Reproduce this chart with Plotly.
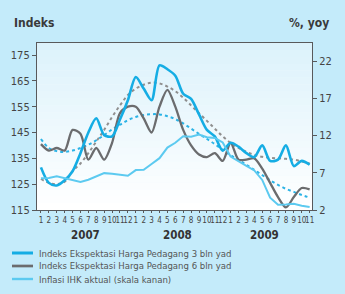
import plotly.graph_objects as go

months = [str(m) for m in range(1, 13)] * 2 + [str(m) for m in range(1, 12)]
years = ["2007", "2008", "2009"]
year_centers = [5.6, 17.3, 28.3]

ekspektasi_3bln = [131.5, 125.5, 124.5, 126.5, 130, 137, 145, 150.5, 144, 143.5,
                   150, 157.5, 166.5, 162, 157.5, 171, 169.5, 167, 160, 158,
                   152, 146, 143.5, 138, 141, 139.5, 137, 135.5, 140, 134,
                   134.5, 140, 132, 134, 132.5]
ekspektasi_6bln = [140.5, 138, 139, 138, 146, 144.5, 134.5, 139, 134.5, 141,
                   152.5, 155, 155, 150.5, 145, 155, 161.5, 155, 146, 140,
                   136.5, 135.5, 137, 134, 141, 134.5, 134.5, 135, 131, 125.5,
                   120, 116, 120, 123.5, 123]
inflasi_ihk = [6.26, 6.30, 6.52, 6.29, 6.01, 5.77, 6.06, 6.51, 6.95, 6.88,
               6.71, 6.59, 7.36, 7.40, 8.17, 8.96, 10.38, 11.03, 11.90, 11.85,
               12.14, 11.77, 11.68, 11.06, 9.17, 8.60, 7.92, 7.31, 6.04, 3.65,
               2.71, 2.75, 2.83, 2.57, 2.41]
tren_3bln = [127, 125.5, 125, 126, 130, 133, 137, 141.5, 146, 151,
             155.5, 159.5, 162, 163.5, 164.3, 164, 162.8, 161, 158.5, 155.5,
             152.5, 149.5, 146.5, 143.5, 141, 139, 137.5, 136.3, 135.6, 135.2,
             135, 134.8, 134.5, 133.8, 133]
tren_6bln = [142.5, 139, 137.8, 137.5, 138, 139, 140.3, 142, 144, 146.2,
             148, 149.8, 151, 151.8, 152.1, 152, 151.3, 150.2, 148.5, 146.5,
             144.5, 142.5, 140.5, 138.3, 136.2, 134.4, 132.5, 130.5, 128.5, 126.5,
             124.7, 123.2, 122, 120.8, 119.8]

legend_names = ["Indeks Ekspektasi Harga Pedagang 3 bln yad",
                "Indeks Ekspektasi Harga Pedagang 6 bln yad",
                "Inflasi IHK aktual (skala kanan)"]
legend_colors = ["#15ade4", "#6b6c6e", "#5ccaf0"]
legend_widths = [2.6, 2.3, 2]

x = list(range(len(months)))
FONT = "Liberation Sans Narrow, DejaVu Sans Condensed, Roboto, sans-serif"

fig = go.Figure()
fig.add_trace(go.Scatter(x=x, y=tren_3bln, mode="lines", showlegend=False,
                         line=dict(color="#8f8f8f", width=2, dash="dot", shape="spline"),
                         hoverinfo="skip"))
fig.add_trace(go.Scatter(x=x, y=tren_6bln, mode="lines", showlegend=False,
                         line=dict(color="#2bb3e6", width=2, dash="dot", shape="spline"),
                         hoverinfo="skip"))
fig.add_trace(go.Scatter(x=x, y=inflasi_ihk, mode="lines", yaxis="y2",
                         name=legend_names[2], showlegend=False,
                         line=dict(color=legend_colors[2], width=legend_widths[2])))
fig.add_trace(go.Scatter(x=x, y=ekspektasi_6bln, mode="lines",
                         name=legend_names[1], showlegend=False,
                         line=dict(color=legend_colors[1], width=legend_widths[1],
                                   shape="spline", smoothing=0.8)))
fig.add_trace(go.Scatter(x=x, y=ekspektasi_3bln, mode="lines",
                         name=legend_names[0], showlegend=False,
                         line=dict(color=legend_colors[0], width=legend_widths[0],
                                   shape="spline", smoothing=0.8)))

# background gradient of plot area
n = 24
top = (0xdc, 0xf2, 0xfb)
bot = (0xff, 0xff, 0xff)
shapes = []
for i in range(n):
    t = i / (n - 1)
    c = tuple(int(round(top[k] + (bot[k] - top[k]) * t)) for k in range(3))
    shapes.append(dict(type="rect", xref="x domain", yref="y domain",
                       x0=0, x1=1, y0=1 - (i + 1) / n, y1=1 - i / n,
                       fillcolor="rgb(%d,%d,%d)" % c, line=dict(width=0), layer="below"))

annotations = [
    dict(text="<b>Indeks</b>", xref="paper", yref="paper", x=-0.09, y=1.12,
         xanchor="left", yanchor="middle", showarrow=False,
         font=dict(family=FONT, size=12, color="#3a3a3a")),
    dict(text="<b>%, yoy</b>", xref="paper", yref="paper", x=1.068, y=1.12,
         xanchor="right", yanchor="middle", showarrow=False,
         font=dict(family=FONT, size=12, color="#3a3a3a")),
]
for yr, xc in zip(years, year_centers):
    annotations.append(dict(text="<b>%s</b>" % yr, xref="x", yref="paper", x=xc, y=-0.15,
                            xanchor="center", yanchor="middle", showarrow=False,
                            font=dict(family=FONT, size=11.5, color="#333333")))

# legend drawn below the chart
leg_y = [-0.2575, -0.3353, -0.4132]
for name, col, w, yy in zip(legend_names, legend_colors, legend_widths, leg_y):
    shapes.append(dict(type="line", xref="paper", yref="paper", x0=-0.0909, x1=-0.0145,
                       y0=yy, y1=yy, line=dict(color=col, width=w + 0.4)))
    annotations.append(dict(text=name, xref="paper", yref="paper", x=0, y=yy,
                            xanchor="left", yanchor="middle", showarrow=False,
                            font=dict(family=FONT, size=9.5, color="#555555")))

fig.update_layout(
    width=345, height=294,
    margin=dict(l=37, r=33, t=43, b=84),
    paper_bgcolor="#c4ebfa",
    plot_bgcolor="#eef9fd",
    shapes=shapes,
    annotations=annotations,
    font=dict(family=FONT, color="#444444"),
    showlegend=False,
    xaxis=dict(range=[-0.5, 34.3], tickmode="array", tickvals=x, ticktext=months,
               tickangle=0, showgrid=False, zeroline=False,
               showline=True, linecolor="#58595b", linewidth=1.2, mirror=True,
               ticks="outside", ticklen=2, tickcolor="#58595b",
               tickfont=dict(family=FONT, size=8, color="#444444")),
    yaxis=dict(range=[115, 179.65], tickvals=[115, 125, 135, 145, 155, 165, 175],
               showgrid=False, zeroline=False, showline=True, linecolor="#58595b",
               linewidth=1.2, ticks="outside", ticklen=4, tickcolor="#58595b",
               tickfont=dict(family=FONT, size=11, color="#444444")),
    yaxis2=dict(range=[2, 24.42], tickvals=[2, 7, 12, 17, 22], overlaying="y", side="right",
                showgrid=False, zeroline=False, showline=True, linecolor="#58595b",
                linewidth=1.2, ticks="outside", ticklen=4, tickcolor="#58595b",
                tickfont=dict(family=FONT, size=11, color="#444444")),
)

fig.write_html("out.html")
